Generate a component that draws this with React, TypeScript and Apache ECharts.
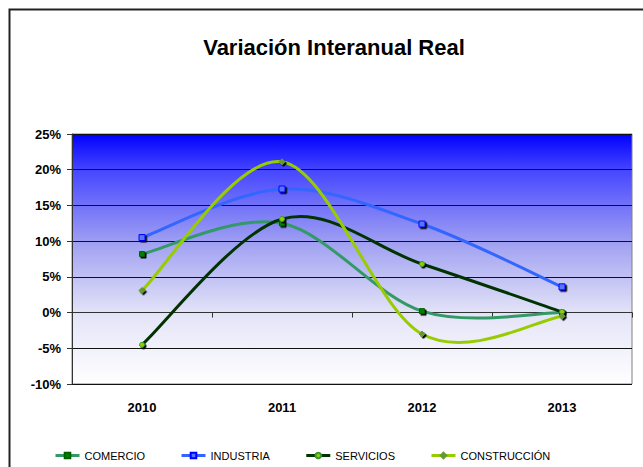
import React, { useEffect, useRef } from "react";
import * as echarts from "echarts";

const categories = ["2010", "2011", "2012", "2013"];
const comercio = [8.2, 12.5, 0.2, 0.0];
const industria = [10.5, 17.3, 12.4, 3.6];
const servicios = [-4.5, 13.1, 6.8, 0.1];
const construccion = [3.1, 21.1, -3.0, -0.5];
const yTicks = { min: -10, max: 25, interval: 5 };

export default function App() {
  const ref = useRef<HTMLDivElement>(null);
  useEffect(() => {
    const chart = echarts.init(ref.current!, null, { renderer: "svg" });
    const font = "'Liberation Sans', Arial, sans-serif";
    const shadow = { shadowColor: "#000", shadowOffsetX: 1.5, shadowOffsetY: 1.5, shadowBlur: 0 };

    const curve = (name: string, arr: number[], color: string) => ({
      name: name + " curve",
      type: "custom",
      data: arr.map((v, i) => [i, v]),
      encode: { x: 0, y: 1 },
      z: 2,
      silent: true,
      renderItem: (params: any, api: any) => {
        const i = params.dataIndex;
        const n = arr.length;
        if (i >= n - 1) return null;
        const p = (k: number) => api.coord([Math.max(0, Math.min(n - 1, k)), arr[Math.max(0, Math.min(n - 1, k))]]);
        const p0 = p(i - 1), p1 = p(i), p2 = p(i + 1), p3 = p(i + 2);
        return {
          type: "bezierCurve",
          shape: {
            x1: p1[0], y1: p1[1],
            cpx1: p1[0] + (p2[0] - p0[0]) / 6,
            cpy1: p1[1] + (p2[1] - p0[1]) / 6,
            cpx2: p2[0] - (p3[0] - p1[0]) / 6,
            cpy2: p2[1] - (p3[1] - p1[1]) / 6,
            x2: p2[0], y2: p2[1],
          },
          style: { stroke: color, lineWidth: 3, fill: null, lineCap: "round" },
        };
      },
    });

    const mk = (name: string, data: number[], symbol: string, size: number, fill: string, border: string) => ({
      name,
      type: "line",
      data,
      symbol,
      symbolSize: size,
      showSymbol: true,
      lineStyle: { width: 0, opacity: 0 },
      itemStyle: { color: fill, borderColor: border, borderWidth: 1, ...shadow },
      emphasis: { disabled: true },
      z: 4,
    });

    const legendItem = (name: string, color: string) => ({
      name,
      lineStyle: { color, width: 3, opacity: 1 },
    });

    chart.setOption({
      animation: false,
      backgroundColor: "#fff",
      textStyle: { fontFamily: font },
      title: {
        text: "Variación Interanual Real",
        left: 329,
        textAlign: "center",
        top: 31,
        textStyle: { fontFamily: font, fontSize: 22, fontWeight: "bold", color: "#000" },
      },
      graphic: [
        {
          type: "rect",
          shape: { x: 9.5, y: 9.5, width: 700, height: 600 },
          style: { fill: "none", stroke: "#222", lineWidth: 2 },
          silent: true,
        },
      ],
      legend: {
        left: 49,
        top: 445,
        itemWidth: 24,
        itemHeight: 7,
        itemGap: 35,
        textStyle: { fontFamily: font, fontSize: 11, color: "#000" },
        data: [
          legendItem("COMERCIO", "#339966"),
          legendItem("INDUSTRIA", "#3366FF"),
          legendItem("SERVICIOS", "#003300"),
          legendItem("CONSTRUCCIÓN", "#99CC00"),
        ],
      },
      grid: {
        left: 72,
        right: 11,
        top: 134,
        bottom: 83,
        show: true,
        borderColor: "#808080",
        borderWidth: 1,
        backgroundColor: new echarts.graphic.LinearGradient(0, 0, 0, 1, [
          { offset: 0, color: "#0000FF" },
          { offset: 0.15, color: "#4848FF" },
          { offset: 0.45, color: "#A4A4F2" },
          { offset: 0.72, color: "#E4E4F8" },
          { offset: 1, color: "#FFFFFF" },
        ]),
      },
      xAxis: [
        {
          type: "category",
          data: categories,
          position: "bottom",
          boundaryGap: true,
          axisLine: { show: false, onZero: false },
          axisTick: { show: false },
          axisLabel: { margin: 17, fontFamily: font, fontSize: 13, fontWeight: "bold", color: "#000" },
          splitLine: { show: false },
        },
        {
          type: "category",
          data: categories,
          position: "top",
          boundaryGap: true,
          axisLine: { show: true, onZero: true, lineStyle: { color: "#333", width: 1 } },
          axisTick: { show: true, inside: true, length: 5, lineStyle: { color: "#333" } },
          axisLabel: { show: false },
          splitLine: { show: false },
        },
      ],
      yAxis: {
        type: "value",
        min: yTicks.min,
        max: yTicks.max,
        interval: yTicks.interval,
        axisLine: { show: true, lineStyle: { color: "#333", width: 1 } },
        axisTick: { show: true, length: 5, lineStyle: { color: "#333" } },
        axisLabel: {
          formatter: "{value}%",
          margin: 11,
          fontFamily: font,
          fontSize: 13,
          fontWeight: "bold",
          color: "#000",
        },
        splitLine: { show: true, lineStyle: { color: "#111", width: 1 } },
      },
      series: [
        mk("COMERCIO", comercio, "rect", 5, "#008000", "#006000"),
        mk("INDUSTRIA", industria, "rect", 6, "#5577FF", "#0000FF"),
        mk("SERVICIOS", servicios, "circle", 5, "#99CC00", "#339933"),
        mk("CONSTRUCCIÓN", construccion, "diamond", 6, "#669933", "#669933"),
        curve("COMERCIO", comercio, "#339966"),
        curve("INDUSTRIA", industria, "#3366FF"),
        curve("SERVICIOS", servicios, "#003300"),
        curve("CONSTRUCCIÓN", construccion, "#99CC00"),
      ],
    });
    return () => chart.dispose();
  }, []);
  return <div ref={ref} style={{ position: "fixed", left: 0, top: 0, width: 643, height: 467 }} />;
}
